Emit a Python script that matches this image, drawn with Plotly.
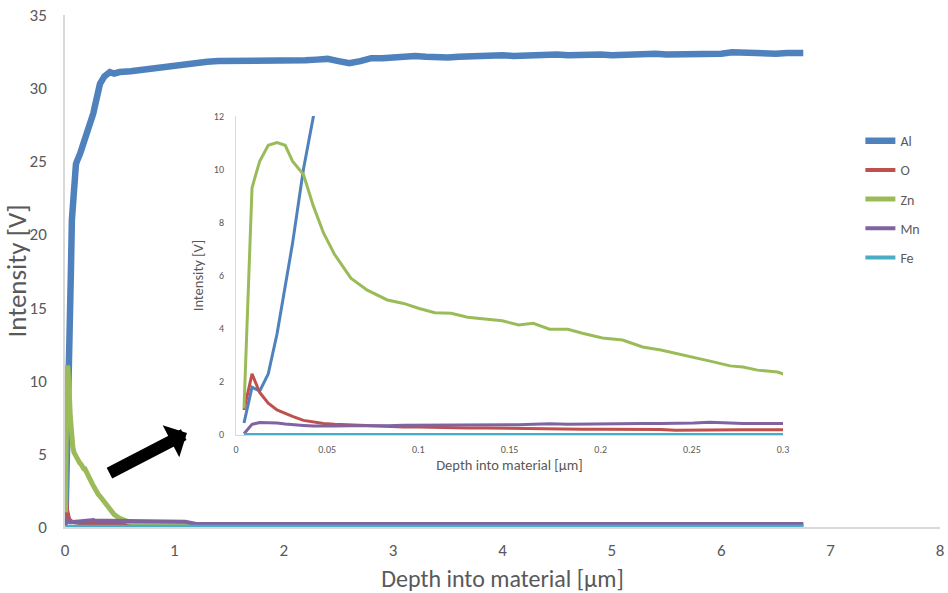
import plotly.graph_objects as go

# ---------------- data ----------------
elements = ["Al", "O", "Zn", "Mn", "Fe"]
colors = ["#4F81BD", "#C0504D", "#9BBB59", "#8064A2", "#4BACC6"]

# shallow depth points (µm) shared by all elements (inset region)
depth_fine = [0.0044, 0.0088, 0.013, 0.0177, 0.0225, 0.027, 0.031, 0.037, 0.0425, 0.048,
              0.054, 0.063, 0.072, 0.083, 0.092, 0.1, 0.109, 0.118, 0.127, 0.137,
              0.146, 0.155, 0.163, 0.172, 0.182, 0.19, 0.201, 0.212, 0.223, 0.233,
              0.241, 0.251, 0.26, 0.271, 0.278, 0.286, 0.297, 0.302]

al_fine = [0.45, 1.8, 1.65, 2.3, 3.8, 5.6, 7.2, 10.0, 12.0, 14.5,
           17.5, 21.0, 22.5, 23.7, 24.3, 24.8, 25.0, 25.1, 25.3, 25.5,
           25.7, 25.9, 26.0, 26.2, 26.4, 26.6, 26.8, 27.0, 27.2, 27.4,
           27.7, 28.0, 28.3, 28.7, 29.0, 29.3, 29.7, 29.9]
o_fine = [0.94, 2.3, 1.6, 1.2, 0.94, 0.8, 0.7, 0.55, 0.48, 0.43,
          0.4, 0.37, 0.34, 0.32, 0.3, 0.3, 0.28, 0.27, 0.26, 0.26,
          0.25, 0.24, 0.24, 0.23, 0.23, 0.22, 0.22, 0.22, 0.22, 0.21,
          0.18, 0.19, 0.21, 0.2, 0.2, 0.2, 0.2, 0.2]
zn_fine = [1.0, 9.3, 10.3, 10.9, 11.0, 10.9, 10.3, 9.8, 8.6, 7.6,
           6.8, 5.9, 5.45, 5.08, 4.95, 4.77, 4.6, 4.58, 4.43, 4.35,
           4.3, 4.14, 4.2, 3.98, 3.98, 3.83, 3.65, 3.57, 3.31, 3.2,
           3.08, 2.93, 2.78, 2.6, 2.56, 2.44, 2.37, 2.25]
mn_fine = [0.05, 0.4, 0.47, 0.47, 0.45, 0.41, 0.38, 0.36, 0.34, 0.33,
           0.34, 0.35, 0.34, 0.35, 0.37, 0.37, 0.37, 0.38, 0.37, 0.38,
           0.38, 0.39, 0.4, 0.42, 0.4, 0.41, 0.42, 0.43, 0.43, 0.43,
           0.43, 0.45, 0.48, 0.44, 0.43, 0.43, 0.43, 0.43]
fe_fine = [0.02, 0.02, 0.02, 0.02, 0.02, 0.02, 0.02, 0.02, 0.02, 0.02,
           0.02, 0.02, 0.02, 0.02, 0.02, 0.02, 0.02, 0.02, 0.02, 0.02,
           0.02, 0.02, 0.02, 0.02, 0.02, 0.02, 0.02, 0.02, 0.02, 0.02,
           0.02, 0.02, 0.02, 0.02, 0.02, 0.02, 0.02, 0.02]

# deeper part of the profile (main chart)
al_bulk_depth = [0.32, 0.36, 0.41, 0.45, 0.5, 0.6, 0.7, 0.8, 0.9, 1.0,
                 1.1, 1.2, 1.3, 1.4, 1.5, 1.6, 1.7, 1.8, 1.9, 2.0,
                 2.1, 2.2, 2.3, 2.4, 2.5, 2.6, 2.7, 2.8, 2.9, 3.0,
                 3.1, 3.2, 3.3, 3.4, 3.5, 3.6, 3.7, 3.8, 3.9, 4.0,
                 4.1, 4.2, 4.3, 4.4, 4.5, 4.6, 4.7, 4.8, 4.9, 5.0,
                 5.1, 5.2, 5.3, 5.4, 5.5, 5.6, 5.7, 5.8, 5.9, 6.0,
                 6.1, 6.2, 6.3, 6.4, 6.5, 6.6, 6.7, 6.75]
al_bulk = [30.3, 30.8, 31.1, 31.0, 31.1, 31.15, 31.25, 31.35, 31.45, 31.55,
           31.7, 31.7, 31.8, 31.85, 31.85, 31.9, 31.8, 31.85, 31.8, 31.85,
           31.8, 31.9, 31.95, 32.0, 31.85, 31.7, 31.85, 32.05, 32.05, 32.1,
           32.2, 32.2, 32.15, 32.1, 32.1, 32.15, 32.2, 32.15, 32.2, 32.25,
           32.2, 32.25, 32.2, 32.25, 32.3, 32.25, 32.3, 32.25, 32.3, 32.25,
           32.3, 32.25, 32.3, 32.35, 32.3, 32.3, 32.35, 32.3, 32.4, 32.35,
           32.45, 32.4, 32.35, 32.4, 32.35, 32.4, 32.45, 32.4]
o_bulk_depth = [0.4, 0.6, 0.8, 1.1, 1.2, 3.0, 5.0, 6.75]
o_bulk = [0.2, 0.19, 0.18, 0.17, 0.12, 0.12, 0.12, 0.12]
zn_bulk_depth = [0.32, 0.36, 0.41, 0.45, 0.5, 0.55, 0.6, 0.7, 0.8, 0.9, 1.1, 3.0, 6.75]
zn_bulk = [2.1, 1.7, 1.15, 0.85, 0.6, 0.42, 0.3, 0.22, 0.18, 0.16, 0.15, 0.12, 0.1]
mn_bulk_depth = [0.4, 0.6, 0.8, 1.0, 1.1, 1.2, 3.0, 5.0, 6.75]
mn_bulk = [0.43, 0.42, 0.4, 0.38, 0.36, 0.2, 0.2, 0.2, 0.2]
fe_bulk_depth = [0.5, 2.0, 4.0, 6.75]
fe_bulk = [0.02, 0.02, 0.02, 0.02]

main_xticks = [0, 1, 2, 3, 4, 5, 6, 7, 8]
main_yticks = [0, 5, 10, 15, 20, 25, 30, 35]
inset_xticks = [0, 0.05, 0.1, 0.15, 0.2, 0.25, 0.3]
inset_xticklabels = ["0", "0.05", "0.1", "0.15", "0.2", "0.25", "0.3"]
inset_yticks = [0, 2, 4, 6, 8, 10, 12]

series = [
    (depth_fine + al_bulk_depth, al_fine + al_bulk),
    (depth_fine + o_bulk_depth, o_fine + o_bulk),
    (depth_fine + zn_bulk_depth, zn_fine + zn_bulk),
    (depth_fine + mn_bulk_depth, mn_fine + mn_bulk),
    (depth_fine + fe_bulk_depth, fe_fine + fe_bulk),
]

# ---------------- figure ----------------
FONT = "Carlito, Lato, sans-serif"
GRAY = "#595959"
AXIS = "#D9D9D9"

fig = go.Figure()
main_widths = [6.5, 4, 5, 4, 4]
for name, col, (xs, ys), w in zip(elements, colors, series, main_widths):
    fig.add_trace(go.Scatter(x=xs, y=ys, mode="lines", name=name,
                             line=dict(color=col, width=w),
                             legendgroup=name, xaxis="x", yaxis="y"))
for name, col, (xs, ys) in zip(elements, colors, series):
    fig.add_trace(go.Scatter(x=xs, y=ys, mode="lines", name=name,
                             line=dict(color=col, width=3),
                             showlegend=False, xaxis="x2", yaxis="y2"))

fig.update_layout(
    width=948, height=593,
    margin=dict(l=65, r=8, t=15, b=66, autoexpand=False),
    paper_bgcolor="white", plot_bgcolor="white",
    font=dict(family=FONT, color=GRAY),
    xaxis=dict(domain=[0, 1], range=[0, 8], tickvals=main_xticks,
               showgrid=False, zeroline=False, showline=True, linecolor=AXIS, linewidth=1.5,
               ticks="", tickfont=dict(size=17, color=GRAY), ticklabelstandoff=7,
               title=dict(text="Depth into material [µm]", font=dict(size=24, color=GRAY), standoff=10)),
    yaxis=dict(domain=[0, 1], range=[0, 35], tickvals=main_yticks,
               showgrid=False, zeroline=False, showline=True, linecolor=AXIS, linewidth=1.5,
               ticks="", tickfont=dict(size=17, color=GRAY), ticklabelstandoff=13,
               title=dict(text="Intensity [V]", font=dict(size=27, color=GRAY), standoff=4)),
    xaxis2=dict(domain=[0.1954, 0.8206], range=[0, 0.3], anchor="y2",
                tickvals=inset_xticks, ticktext=inset_xticklabels,
                showgrid=False, zeroline=False, showline=True, linecolor=AXIS, linewidth=1,
                ticks="", tickfont=dict(size=10, color=GRAY), ticklabelstandoff=5,
                title=dict(text="Depth into material [µm]", font=dict(size=14.5, color=GRAY), standoff=4)),
    yaxis2=dict(domain=[0.1797, 0.8027], range=[0, 12], anchor="x2",
                tickvals=inset_yticks,
                showgrid=False, zeroline=False, showline=True, linecolor=AXIS, linewidth=1,
                ticks="", tickfont=dict(size=10, color=GRAY), ticklabelstandoff=9,
                title=dict(text="Intensity [V]", font=dict(size=14.5, color=GRAY), standoff=6)),
    legend=dict(x=0.909, y=0.785, xanchor="left", yanchor="top",
                font=dict(size=14, color=GRAY), bgcolor="rgba(0,0,0,0)",
                traceorder="grouped", tracegroupgap=8),
    showlegend=True,
)

fig.add_annotation(x=1.115, y=6.43, xref="x", yref="y", ax=-79, ay=41,
                   axref="pixel", ayref="pixel", showarrow=True, text="",
                   arrowhead=1, arrowwidth=12, arrowsize=0.5, arrowcolor="black")

fig.write_html("out.html")
